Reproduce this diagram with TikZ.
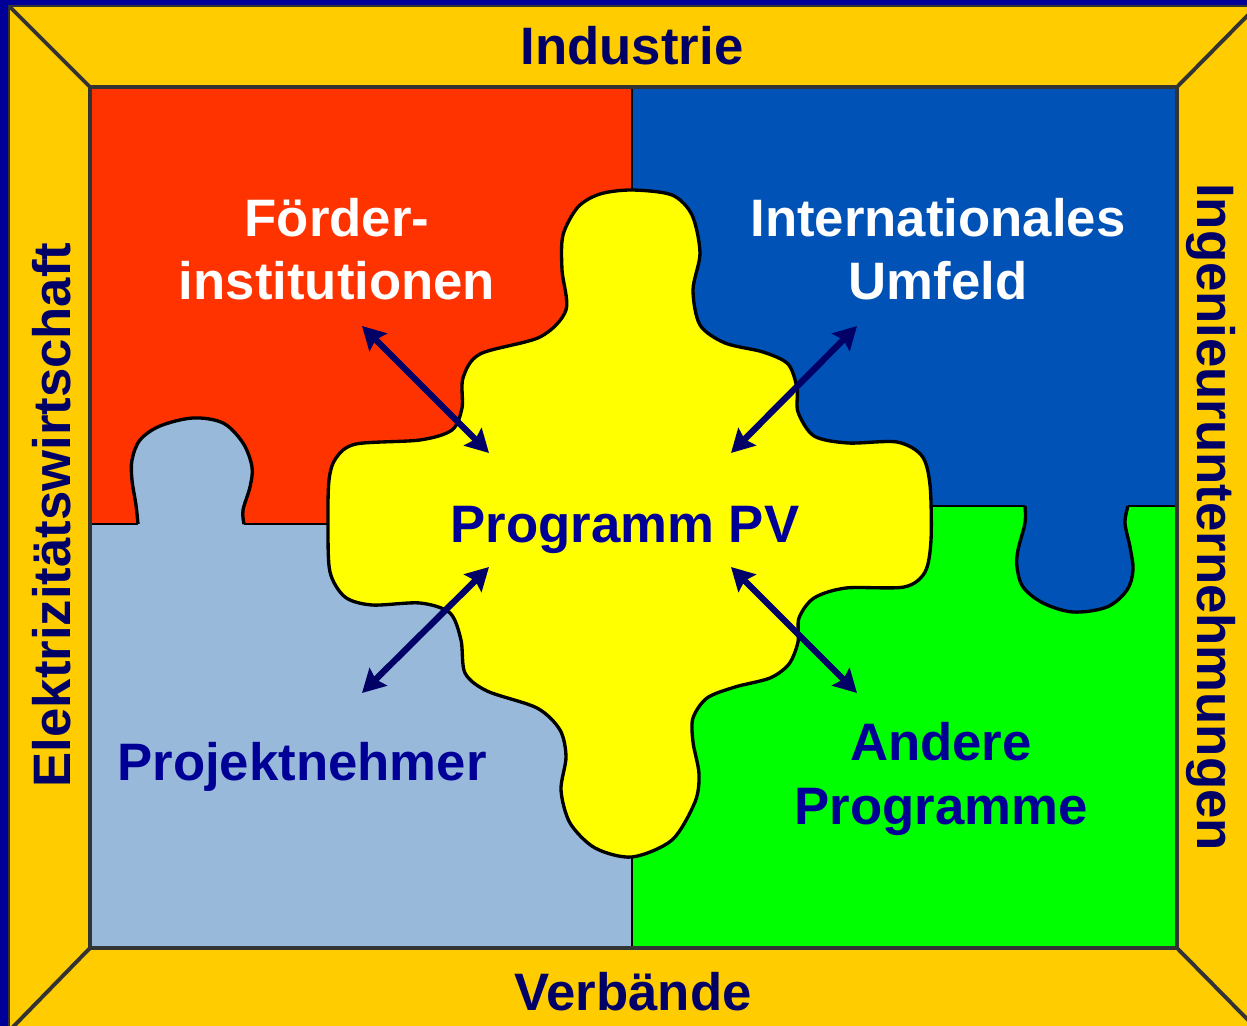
\documentclass[tikz,border=0pt]{standalone}
\usepackage{fontspec}
\setmainfont{Liberation Sans}
\usepackage{tikz}
\usetikzlibrary{arrows.meta}
\tikzset{>={Stealth[length=13pt,width=14pt,inset=2pt]}}
\definecolor{frameGold}{RGB}{255,204,0}
\definecolor{frameNavy}{RGB}{0,0,153}
\definecolor{frameText}{RGB}{0,0,102}
\definecolor{pieceText}{RGB}{0,0,150}
\definecolor{edgeGray}{RGB}{51,51,51}
\definecolor{pieceRed}{RGB}{255,51,0}
\definecolor{pieceBlue}{RGB}{0,82,183}
\definecolor{pieceLight}{RGB}{153,185,219}
\definecolor{pieceGreen}{RGB}{0,255,0}
\definecolor{pieceYellow}{RGB}{255,255,0}

\begin{document}
\begin{tikzpicture}[x=0.02cm, y=-0.02cm,
		bevel/.style={draw=edgeGray, line width=2.2pt},
		outline/.style={draw=black, line width=1.9pt},
		seam/.style={draw=black, line width=1.4pt},
		link/.style={<->, draw=frameText, line width=3.6pt},
		label/.style={font=\fontsize{30}{36}\selectfont\bfseries, align=center, inner sep=0pt, anchor=base}]
	\useasboundingbox (0,0) rectangle (1247,1026);
	\clip (0,0) rectangle (1247,1026);
	% frame
	\fill[frameNavy] (0,0) rectangle (1247,1026);
	\filldraw[fill=frameGold, draw=edgeGray, line width=1pt] (9,6) rectangle (1270,1050);
	\draw[bevel] (9,6) -- (90,87);
	\draw[bevel] (1249,14) -- (1177,87);
	\draw[bevel] (90,948) -- (12,1028);
	\draw[bevel] (1177,948) -- (1249,1021);
	% pieces
	\fill[pieceRed] (90,87) rectangle (632,524);
	\fill[pieceBlue] (632,87) rectangle (1177,506);
	\fill[pieceLight] (90,524) rectangle (632,948);
	\fill[pieceGreen] (632,506) rectangle (1177,948);
	\draw[seam] (632,87) -- (632,948);
	\draw[seam] (90,524) -- (138,524) (243,524) -- (632,524);
	\draw[seam] (632,506) -- (1025,506) (1128,506) -- (1177,506);
	\fill[pieceLight] plot[smooth, tension=0.55] coordinates {(138,526) (136,505) (132,480) (132,460) (140,440) (160,426) (193,418) (223,423) (243,443) (252,467) (250,487) (243,510) (244,526)};
	\draw[outline] plot[smooth, tension=0.55] coordinates {(138,524) (136,505) (132,480) (132,460) (140,440) (160,426) (193,418) (223,423) (243,443) (252,467) (250,487) (243,510) (244,524)};
	\fill[pieceBlue] plot[smooth, tension=0.55] coordinates {(1025,504) (1025,523) (1018,550) (1017,567) (1023,587) (1043,603) (1073,612) (1107,607) (1127,590) (1133,570) (1130,547) (1125,523) (1128,504)};
	\draw[outline] plot[smooth, tension=0.55] coordinates {(1025,506) (1025,523) (1018,550) (1017,567) (1023,587) (1043,603) (1073,612) (1107,607) (1127,590) (1133,570) (1130,547) (1125,523) (1128,506)};
	\filldraw[outline, fill=pieceYellow] plot[smooth cycle, tension=0.5] coordinates {
		(632,190) (672,195) (692,215) (700,253) (693,290) (700,325) (725,343) (763,352)
		(788,364) (797,388) (798,412) (814,436) (848,443) (897,442) (922,456) (930,485)
		(931,540) (925,572) (904,587) (846,588) (814,598) (799,618) (798,642) (789,664)
		(770,678) (735,687) (707,698) (693,718) (693,742) (699,774) (695,802) (672,840)
		(632,857) (595,848) (570,823) (561,790) (566,757) (560,730) (537,708) (487,691)
		(465,673) (461,640) (450,613) (420,603) (372,605) (345,597) (330,572) (328,525)
		(329,480) (336,458) (356,444) (420,440) (452,430) (462,408) (463,378) (480,354)
		(540,337) (566,310) (562,270) (563,235) (578,207) (600,194)};
	\draw[draw=edgeGray, line width=1.8pt] (90,87) rectangle (1177,948);
	% arrows
	\coordinate (foerderTip) at (362,326);
	\coordinate (centreNW) at (489,453);
	\coordinate (internTip) at (857,326);
	\coordinate (centreNE) at (731,453);
	\coordinate (projektTip) at (362,693);
	\coordinate (centreSW) at (489,567);
	\coordinate (andereTip) at (857,693);
	\coordinate (centreSE) at (731,567);
	\draw[link] (foerderTip) -- (centreNW);
	\draw[link] (internTip) -- (centreNE);
	\draw[link] (projektTip) -- (centreSW);
	\draw[link] (andereTip) -- (centreSE);
	% labels
	\node[label, text=white] (foerder) at (337,300) {Förder-\\institutionen};
	\node[label, text=white] (intern) at (938,300) {Internationales\\Umfeld};
	\node[label, text=pieceText] (programm) at (625,543) {Programm PV};
	\node[label, text=pieceText] (projekt) at (302,780) {Projektnehmer};
	\node[label, text=pieceText] (andere) at (941,824) {Andere\\Programme};
	\node[label, text=frameText] (industrie) at (632,65) {Industrie};
	\node[label, text=frameText] (verbaende) at (633,1010) {Verbände};
	\node[label, text=frameText, rotate=90] (elektro) at (70,515) {Elektrizitätswirtschaft};
	\node[label, text=frameText, rotate=-90] (ingenieur) at (1197,517) {Ingenieurunternehmungen};
\end{tikzpicture}
\end{document}
